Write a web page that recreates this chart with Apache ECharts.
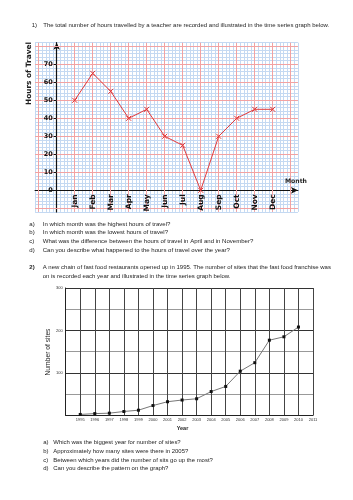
<!DOCTYPE html>
<html><head><meta charset="utf-8">
<script src="https://cdn.jsdelivr.net/npm/echarts@6/dist/echarts.min.js"></script>
<style>html,body{margin:0;padding:0;background:#fff}#c{width:353px;height:500px}</style>
</head><body><div id="c"></div>
<script>
// ---- data ----
const months = ['Jan','Feb','Mar','Apr','May','Jun','Jul','Aug','Sep','Oct','Nov','Dec'];
const hours = [50, 65, 55, 40, 45, 30, 25, 0, 30, 40, 45, 45];
const hourTicks = [0, 10, 20, 30, 40, 50, 60, 70];
const years = [1995,1996,1997,1998,1999,2000,2001,2002,2003,2004,2005,2006,2007,2008,2009,2010];
const sites = [2, 4, 5, 9, 12, 23, 32, 36, 39, 56, 68, 104, 124, 177, 185, 208];
const yearTicks = [1995,1996,1997,1998,1999,2000,2001,2002,2003,2004,2005,2006,2007,2008,2009,2010,2011];
const siteTicks = [100, 200, 300];

// ---- text helpers ----
const mctx = document.createElement('canvas').getContext('2d');
function fit(text, width, family, weight) {
  mctx.font = (weight || 'normal') + ' 100px ' + family;
  return 100 * width / mctx.measureText(text).width;
}
const FF = 'Liberation Sans';
const TXT = '#1e1e1e';
function t(text, x, y, size, opt) {
  opt = opt || {};
  return {
    type: 'text', x: x, y: y, rotation: opt.rotation || 0, z: 100,
    style: {
      text: text, fontSize: size, fontFamily: opt.family || FF,
      fontWeight: opt.weight || 'normal', fill: opt.fill || TXT,
      align: opt.align || 'left', verticalAlign: 'middle'
    }
  };
}

const L1 = 'The total number of hours travelled by a teacher are recorded and illustrated in the time series graph below.';
const q1 = ['In which month was the highest hours of travel?',
  'In which month was the lowest hours of travel?',
  'What was the difference between the hours of travel in April and in November?',
  'Can you describe what happened to the hours of travel over the year?'];
const L2a = 'A new chain of fast food restaurants opened up in 1995. The number of sites that the fast food franchise was';
const L2b = 'on is recorded each year and illustrated in the time series graph below.';
const q2 = ['Which was the biggest year for number of sites?',
  'Approximately how many sites were there in 2005?',
  'Between which years did the number of sits go up the most?',
  'Can you describe the pattern on the graph?'];
const letters = ['a)', 'b)', 'c)', 'd)'];

const s1 = fit(L1, 287, FF);
const sq1 = fit(q1[2], 211, FF);
const s2 = fit(L2a, 289, FF);
const sq2 = fit(q2[2], 160, FF);

const graphics = [];
graphics.push(t('1)', 31.7, 25, s1));
graphics.push(t(L1, 43.3, 25, s1));
const qy1 = [224, 232.7, 241.8, 250.7];
q1.forEach((q, i) => { graphics.push(t(letters[i], 29.3, qy1[i], sq1)); graphics.push(t(q, 42.7, qy1[i], sq1)); });
graphics.push(t('2)', 29.3, 267.7, s2, {weight: 'bold'}));
graphics.push(t(L2a, 42.7, 267.7, s2));
graphics.push(t(L2b, 42.7, 276.7, s2));
const qy2 = [442.3, 451, 460, 468.3];
q2.forEach((q, i) => { graphics.push(t(letters[i], 43.3, qy2[i], sq2)); graphics.push(t(q, 53.3, qy2[i], sq2)); });
const CF = 'DejaVu Sans';
graphics.push(t('Hours of Travel', 29.5, 73.5, fit('Hours of Travel', 63, CF, 'bold'), {family: CF, weight: 'bold', align: 'center', rotation: Math.PI / 2}));
graphics.push(t('Month', 285, 181.5, fit('Month', 22, CF, 'bold'), {family: CF, weight: 'bold'}));
graphics.push(t('Number of sites', 48.3, 352, fit('Number of sites', 47, FF), {align: 'center', rotation: Math.PI / 2}));
graphics.push(t('Year', 182.5, 428.3, 5.5, {weight: 'bold', align: 'center'}));

// ---- graph paper for chart 1 (units = small squares, 0 at the origin) ----
const BLUE = '#c4d9f2', RED = '#f2a2a2';
const redX = [-5, 5, 10, 15, 20, 25, 30, 35, 40, 45, 50, 55, 60, 65];
const redY = [-5, 5, 10, 15, 20, 25, 30, 35, 40];
const P1 = {left: 35.1, top: 42.7, width: 262.8, height: 169.2};          // paper
const D1 = {left: 56.7, top: 42.7, width: 241.2, height: 147.6};          // positive quadrant
const P2 = {left: 65.7, top: 288, width: 247.3, height: 127.3};
const gbase = {outerBoundsMode: 'none', containLabel: false, show: false};
const arrowLine = {show: true, onZero: true, symbol: ['none', 'arrow'], symbolSize: [5, 7],
  lineStyle: {color: '#111', width: 1.2}};

const option = {
  animation: false,
  backgroundColor: '#fff',
  grid: [Object.assign({}, gbase, P1), Object.assign({}, gbase, D1), Object.assign({}, gbase, P2)],
  xAxis: [
    {
      type: 'value', gridIndex: 0, min: -6, max: 67, interval: 1,
      axisLine: arrowLine, axisTick: {show: false}, axisLabel: {show: false},
      splitLine: {show: true, lineStyle: {color: BLUE, width: 1}}
    },
    {
      type: 'value', gridIndex: 1, min: 0, max: 13.4, z: 5,
      axisLine: {show: false}, axisTick: {show: false}, splitLine: {show: false},
      axisLabel: {customValues: [1,2,3,4,5,6,7,8,9,10,11,12], formatter: (v) => months[Math.round(v) - 1] || '',
        rotate: 90, margin: 4, fontSize: 7.5, fontWeight: 'bold', fontFamily: CF, color: '#111'}
    },
    {
      type: 'value', gridIndex: 2, min: 1994, max: 2011, interval: 1,
      axisLine: {show: true, lineStyle: {color: '#222', width: 1}},
      axisTick: {show: false},
      splitLine: {show: true, lineStyle: {color: '#444', width: 1}},
      axisLabel: {formatter: (v) => (yearTicks.indexOf(v) >= 0 ? String(v) : ''), fontSize: 4, margin: 3,
        color: '#333', fontFamily: FF, showMinLabel: true, showMaxLabel: true}
    }
  ],
  yAxis: [
    {
      type: 'value', gridIndex: 0, min: -6, max: 41, interval: 1,
      axisLine: arrowLine, axisTick: {show: false}, axisLabel: {show: false},
      splitLine: {show: true, lineStyle: {color: BLUE, width: 1}}
    },
    {
      type: 'value', gridIndex: 1, min: 0, max: 82, z: 5,
      axisLine: {show: false},
      axisTick: {show: true, customValues: hourTicks, length: 3, lineStyle: {color: '#111'}},
      splitLine: {show: false},
      axisLabel: {customValues: hourTicks, margin: 4, fontSize: 6.5, fontWeight: 'bold', fontFamily: CF, color: '#111'}
    },
    {
      type: 'value', gridIndex: 2, min: 0, max: 300, interval: 50,
      axisLine: {show: true, lineStyle: {color: '#222', width: 1}},
      axisTick: {show: false},
      splitLine: {show: true, lineStyle: {color: ['#333', '#999'], width: 1}},
      axisLabel: {formatter: (v) => (siteTicks.indexOf(v) >= 0 ? String(v) : ''), fontSize: 4, margin: 3,
        color: '#333', fontFamily: FF, showMaxLabel: true}
    }
  ],
  series: [
    {
      // red major lines of the graph paper
      type: 'line', xAxisIndex: 0, yAxisIndex: 0, z: 1, silent: true,
      data: [[0, 0]], symbol: 'none', lineStyle: {opacity: 0},
      markLine: {
        silent: true, symbol: ['none', 'none'], label: {show: false}, animation: false,
        lineStyle: {color: RED, width: 1, type: 'solid'},
        emphasis: {disabled: true},
        data: redX.map((v) => ({xAxis: v})).concat(redY.map((v) => ({yAxis: v})))
      }
    },
    {
      type: 'line', xAxisIndex: 1, yAxisIndex: 1, z: 10,
      data: months.map((m, i) => [i + 1, hours[i]]),
      lineStyle: {color: '#e23a3a', width: 1},
      symbol: 'path://M0,0L10,10M10,0L0,10', symbolSize: 5,
      itemStyle: {color: 'rgba(0,0,0,0)', borderColor: '#e23a3a', borderWidth: 1}
    },
    {
      type: 'line', xAxisIndex: 2, yAxisIndex: 2, z: 10,
      data: years.map((y, i) => [y, sites[i]]),
      lineStyle: {color: '#777', width: 1},
      symbol: 'rect', symbolSize: 3,
      itemStyle: {color: '#111'}
    }
  ],
  graphic: graphics
};
const chart = echarts.init(document.getElementById('c'), null, {renderer: 'canvas'});
chart.setOption(option);
</script>
</body></html>
